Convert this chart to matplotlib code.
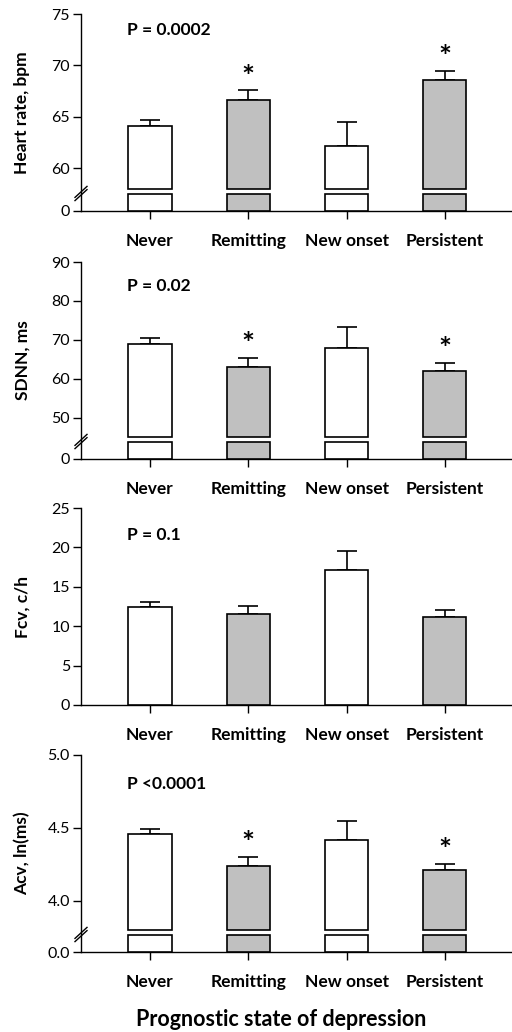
import numpy as np
import matplotlib
from matplotlib import pyplot as plt

matplotlib.use("Agg")
plt.rcParams['font.family'] = ['Lato', 'DejaVu Sans']

groups = ["Never", "Remitting", "New onset", "Persistent"]
fills = ["white", "#c0c0c0", "white", "#c0c0c0"]

hr_mean = [64.1, 66.6, 62.2, 68.6]
hr_err = [0.65, 1.0, 2.35, 0.9]
sdnn_mean = [69.0, 63.1, 67.9, 62.0]
sdnn_err = [1.5, 2.3, 5.4, 2.0]
fcv_mean = [12.45, 11.6, 17.1, 11.2]
fcv_err = [0.65, 1.0, 2.4, 0.85]
acv_mean = [4.46, 4.24, 4.42, 4.21]
acv_err = [0.035, 0.06, 0.13, 0.045]

stars = [[False, True, False, True],
         [False, True, False, True],
         [False, False, False, False],
         [False, True, False, True]]
p_labels = ["P = 0.0002", "P = 0.02", "P = 0.1", "P <0.0001"]
y_labels = ["Heart rate, bpm", "SDNN, ms", "Fcv, c/h", "Acv, ln(ms)"]
y_ticks = [[0, 60, 65, 70, 75], [0, 50, 60, 70, 80, 90],
           [0, 5, 10, 15, 20, 25], [0.0, 4.0, 4.5, 5.0]]
tick_fmt = ["{:g}", "{:g}", "{:g}", "{:.1f}"]
y_top = [75, 90, 25, 5.0]
# (stub top, start of upper part) for the broken axes, None = plain axis
breaks = [(5, 58.0), (5, 45.0), None, (0.3, 3.8)]

means = [hr_mean, sdnn_mean, fcv_mean, acv_mean]
errs = [hr_err, sdnn_err, fcv_err, acv_err]

H = 197.0      # axis height in px
STUB = 17.0    # px height of lower stub
GAP_TOP = 22.0 # px where upper part starts


def piecewise(xp, fp):
    xp = np.asarray(xp, float)
    fp = np.asarray(fp, float)

    def make(a, b):
        s0 = (b[1] - b[0]) / (a[1] - a[0])
        s1 = (b[-1] - b[-2]) / (a[-1] - a[-2])

        def f(v):
            v = np.asarray(v, float)
            out = np.interp(v, a, b)
            out = np.where(v < a[0], b[0] + (v - a[0]) * s0, out)
            out = np.where(v > a[-1], b[-1] + (v - a[-1]) * s1, out)
            return out
        return f
    return make(xp, fp), make(fp, xp)


fig = plt.figure(figsize=(5.12, 10.32), dpi=100)
bottoms_px = [211, 459, 705, 952]
x = np.arange(len(groups))
W, FH = 512.0, 1032.0

for i in range(4):
    b = bottoms_px[i]
    ax = fig.add_axes([81 / W, (FH - b) / FH, 431 / W, H / FH])
    top = y_top[i]
    m = np.array(means[i])
    e = np.array(errs[i])

    if breaks[i] is not None:
        stub, low = breaks[i]
        fwd, inv = piecewise([0, stub, low, top], [0, STUB, GAP_TOP, H])
        ax.set_yscale('function', functions=(fwd, inv))
        ax.bar(x, stub, width=0.44, color=fills, edgecolor='black', linewidth=1.2, zorder=3)
        ax.bar(x, m - low, bottom=low, width=0.44, color=fills, edgecolor='black',
               linewidth=1.2, zorder=3)
        # break marks on the y axis
        yc = 17.5 / H
        dx, dy = 6 / 431, 5.5 / H
        for off in (-1.6 / H, 1.6 / H):
            ax.plot([-dx, dx], [yc - dy + off, yc + dy + off], transform=ax.transAxes,
                    color='black', lw=1.0, clip_on=False, zorder=5)
    else:
        ax.bar(x, m, width=0.44, color=fills, edgecolor='black', linewidth=1.2, zorder=3)

    ax.errorbar(x, m, yerr=[np.zeros_like(e), e], fmt='none', ecolor='black',
                elinewidth=1.2, capsize=7.5, capthick=1.2, zorder=2)

    for j in range(len(groups)):
        if stars[i][j]:
            ax.annotate("*", (x[j], m[j] + e[j]), xytext=(0, -1), textcoords='offset points',
                        ha='center', va='bottom', fontsize=22, fontweight='bold')

    ax.text(0.107, [0.919, 0.88, 0.863, 0.853][i], p_labels[i], transform=ax.transAxes,
            ha='left', va='center', fontsize=12.5, fontweight='bold')

    ax.set_xlim(-0.702, 3.683)
    ax.set_ylim(0, top)
    ax.set_yticks(y_ticks[i])
    ax.set_yticklabels([tick_fmt[i].format(t) for t in y_ticks[i]])
    ax.set_xticks(x)
    ax.set_xticklabels(groups, fontweight='bold', fontsize=12.5)
    ax.tick_params(axis='y', direction='out', length=6, width=1.0, labelsize=11.5, pad=2)
    ax.tick_params(axis='x', direction='out', length=6, width=1.0, pad=10)
    for s in ('top', 'right'):
        ax.spines[s].set_visible(False)
    for s in ('left', 'bottom'):
        ax.spines[s].set_linewidth(1.0)
    ax.set_ylabel(y_labels[i], fontsize=12.5, fontweight='bold')
    ax.yaxis.set_label_coords(-0.118, 0.5)

fig.text(281 / W, 1 - 1019 / FH, "Prognostic state of depression", ha='center', va='center',
         fontsize=15.5, fontweight='bold')

fig.savefig("out.png", dpi=100)
